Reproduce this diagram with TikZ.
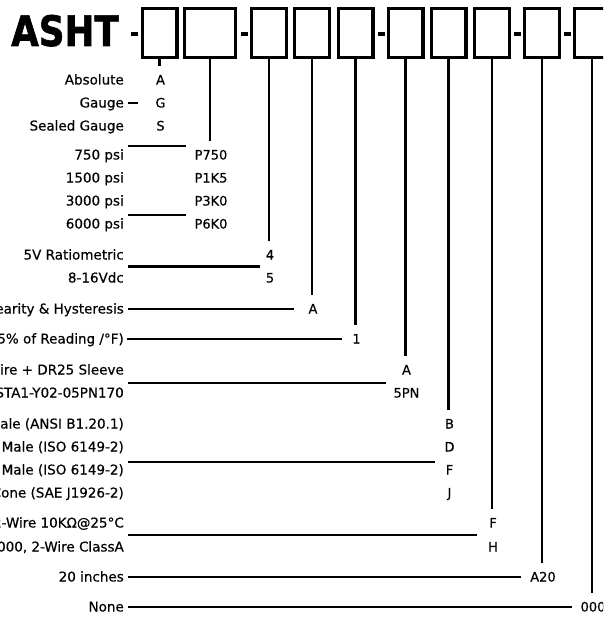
\documentclass[tikz,border=0pt]{standalone}
\usepackage{fontspec}
\setmainfont{DejaVu Sans}[FakeBold=0.4]
\newfontfamily\ttlfont{DejaVu Sans}[BoldFeatures={FakeBold=1.6}]
\usepackage{graphicx}
\usetikzlibrary{calc}

\tikzset{
  cell/.style={draw, line width=3.3pt, minimum width=34.7pt, minimum height=49pt, inner sep=0pt},
  sep/.style={fill, minimum width=7pt, minimum height=4pt, inner sep=0pt},
  lbl/.style={anchor=east, inner sep=0pt, text height=9pt, text depth=0pt, font=\fontsize{13.5}{15}\selectfont},
  code/.style={inner sep=0pt, xshift=1pt, text height=9pt, text depth=0pt, font=\fontsize{13}{15}\selectfont},
  lead/.style={line width=2.3pt, shorten >=9pt},
  rule/.style={line width=2.3pt, shorten <=4pt, shorten >=10pt},
}

\begin{document}
\begin{tikzpicture}[x=1pt, y=-1pt]
	\useasboundingbox (0,0) rectangle (603,618);
	\clip (0,0) rectangle (603,618);

	% Заголовок и ячейки
	\node[inner sep=0pt, anchor=base west, font=\fontsize{42}{42}\ttlfont\bfseries] (ttl) at (11,46) {\scalebox{0.85}[1]{ASHT}};
	\foreach \n/\x/\w in {b1/159.5/34.7, b2/210/50.7, b3/269/34.7, b4/312/34.7, b5/355.5/34.7,
			b6/405.5/34.7, b7/448.5/34.7, b8/492/34.7, b9/542/34.7, b10/592/34.7}
		\node[cell, minimum width=\w pt] (\n) at (\x,33) {};
	\foreach \n/\x in {d1/134, d2/244, d3/381, d4/517.5, d5/567}
		\node[sep] (\n) at (\x,34) {};

	% Тип давления
	\foreach \n/\y/\t/\c in {Abs/80/Absolute/A, Gau/103/Gauge/G, Sea/126/Sealed Gauge/S}
	{
		\node[lbl] (l\n) at (124,\y) {\t};
		\node[code] (c\n) at (b1.south |- 0,\y) {\c};
	}
	\draw[lead] (b1.south) -- (b1.south |- cAbs.north);
	\draw[rule, shorten >=17pt] (lGau.east) -- (lGau.east -| cGau.west);

	% Диапазон
	\foreach \n/\y/\t/\c in {p1/155/750 psi/P750, p2/178/1500 psi/P1K5, p3/201/3000 psi/P3K0, p4/224/6000 psi/P6K0}
	{
		\node[lbl] (l\n) at (124,\y) {\t};
		\node[code] (c\n) at (b2.south |- 0,\y) {\c};
	}
	\draw[lead] (b2.south) -- (b2.south |- cp1.north);
	\draw[rule, shorten >=8pt] ($(lp1.east)+(0,-9)$) -- ($(lp1.east -| cp1.west)+(0,-9)$);
	\draw[rule, shorten >=8pt] ($(lp4.east)+(0,-9)$) -- ($(lp4.east -| cp4.west)+(0,-9)$);

	% Выход
	\foreach \n/\y/\t/\c in {o1/255/5V Ratiometric/4, o2/278/8-16Vdc/5}
	{
		\node[lbl] (l\n) at (124,\y) {\t};
		\node[code] (c\n) at (b3.south |- 0,\y) {\c};
	}
	\draw[lead] (b3.south) -- (b3.south |- co1.north);
	\coordinate (mo) at ($(lo1.east)!0.5!(lo2.east)$);
	\draw[rule, shorten >=6pt] (mo) -- (mo -| co1.west);

	% Точность
	\node[lbl] (lLin) at (124,309) {Linearity \& Hysteresis};
	\node[code] (cLin) at (b4.south |- 0,309) {A};
	\draw[lead] (b4.south) -- (b4.south |- cLin.north);
	\draw[rule, shorten >=14pt] (lLin.east) -- (lLin.east -| cLin.west);

	\node[lbl] (lTh) at (124,339) {(±0.05\% of Reading /°F)};
	\node[code] (cTh) at (b5.south |- 0,339) {1};
	\draw[lead] (b5.south) -- (b5.south |- cTh.north);
	\draw[rule, shorten <=3pt] (lTh.east) -- (lTh.east -| cTh.west);

	% Разъём
	\foreach \n/\y/\t/\c in {e1/370/4-Wire + DR25 Sleeve/A, e2/393/{1-STA1-Y02-05PN170}/5PN}
	{
		\node[lbl] (l\n) at (124,\y) {\t};
		\node[code] (c\n) at (b6.south |- 0,\y) {\c};
	}
	\draw[lead] (b6.south) -- (b6.south |- ce1.north);
	\coordinate (me) at ($(le1.east)!0.55!(le2.east)$);
	\draw[rule, shorten >=7pt] (me) -- (me -| ce2.west);

	% Штуцер
	\foreach \n/\y/\t/\c in {f1/424/{1/4 NPT Male (ANSI B1.20.1)}/B, f2/447/{M12 Male (ISO 6149-2)}/D,
			f3/470/{M14 Male (ISO 6149-2)}/F, f4/493/{9/16 UNF Cone (SAE J1926-2)}/J}
	{
		\node[lbl] (l\n) at (124,\y) {\t};
		\node[code] (c\n) at (b7.south |- 0,\y) {\c};
	}
	\draw[lead] (b7.south) -- (b7.south |- cf1.north);
	\coordinate (mf) at ($(lf2.east)!0.65!(lf3.east)$);
	\draw[rule] (mf) -- (mf -| cf1.west);

	% Датчик температуры
	\foreach \n/\y/\t/\c in {t1/523/{NTC, 2-Wire 10KΩ@25°C}/F, t2/547/{PT1000, 2-Wire ClassA}/H}
	{
		\node[lbl] (l\n) at (124,\y) {\t};
		\node[code] (c\n) at (b8.south |- 0,\y) {\c};
	}
	\draw[lead] (b8.south) -- (b8.south |- ct1.north);
	\coordinate (mt) at ($(lt1.east)!0.5!(lt2.east)$);
	\draw[rule, shorten >=12pt] (mt) -- (mt -| ct1.west);

	% Кабель и опции
	\node[lbl] (lCab) at (124,577) {20 inches};
	\node[code] (cCab) at (b9.south |- 0,577) {A20};
	\draw[lead] (b9.south) -- (b9.south |- cCab.north);
	\draw[rule, shorten >=9pt] (lCab.east) -- (lCab.east -| cCab.west);

	\node[lbl] (lOpt) at (124,607) {None};
	\node[code] (cOpt) at (b10.south |- 0,607) {000};
	\draw[lead] (b10.south) -- (b10.south |- cOpt.north);
	\draw[rule, shorten >=8pt] (lOpt.east) -- (lOpt.east -| cOpt.west);
\end{tikzpicture}
\end{document}
